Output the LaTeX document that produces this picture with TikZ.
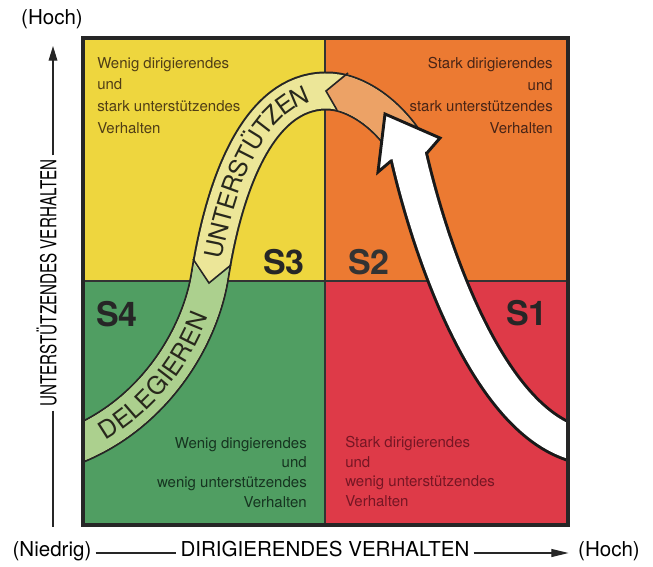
\documentclass[tikz,border=0pt]{standalone}
\usepackage{fontspec}
\setmainfont{TeX Gyre Heros}
\usetikzlibrary{arrows.meta,decorations.text}

\definecolor{quadyellow}{RGB}{238,214,62}
\definecolor{quadorange}{RGB}{236,122,50}
\definecolor{quadgreen}{RGB}{80,158,98}
\definecolor{quadred}{RGB}{222,58,72}
\definecolor{bandyellow}{RGB}{236,230,152}
\definecolor{bandgreen}{RGB}{172,208,142}
\definecolor{bandorange}{RGB}{236,162,102}
\definecolor{inkthree}{RGB}{80,62,22}
\definecolor{inktwo}{RGB}{72,36,22}
\definecolor{inkfour}{RGB}{22,52,32}
\definecolor{inkone}{RGB}{118,22,36}
\definecolor{inkband}{RGB}{40,40,28}

\newcommand{\bandfont}{\fontsize{18.5}{22}\selectfont}
\newcommand{\bandpath}{(65,449) .. controls (150,420) and (200,340) .. (210,275)
  .. controls (225,180) and (260,92) .. (325,91)
  .. controls (355,90) and (390,115) .. (410,150)}
\newcommand{\shaftpath}{(585,446) .. controls (490,430) and (430,250) .. (408,153)}

\begin{document}
\begin{tikzpicture}[x=0.75pt,y=-0.75pt,
    quadtext/.style={inner sep=0pt,font=\fontsize{11.25}{16.3}\selectfont},
    quadtextlow/.style={inner sep=0pt,font=\fontsize{11.25}{14.8}\selectfont},
    slabel/.style={inner sep=0pt,font=\fontsize{25.5}{30}\selectfont\bfseries},
    axislabel/.style={inner sep=3pt,text height=0.73em,text depth=0.21em,
      font=\fontsize{15.4}{18}\selectfont},
    axisline/.style={line width=0.9pt,black!85}]
  \useasboundingbox (0,0) rectangle (653,567);

  % quadrants
  \fill[quadyellow] (83,38) rectangle (325,281);
  \fill[quadorange] (325,38) rectangle (568,281);
  \fill[quadgreen] (83,281) rectangle (325,525);
  \fill[quadred] (325,281) rectangle (568,525);
  \draw[line width=1.5pt,black!80] (325,38) -- (325,525);
  \draw[line width=1.5pt,black!80] (83,281) -- (568,281);

  % quadrant texts
  \node[quadtext,anchor=north west,align=left,text=inkthree] (txtthree) at (97,57)
    {Wenig dirigierendes\\und\\stark unterstützendes\\Verhalten};
  \node[quadtext,anchor=north east,align=right,text=inktwo] (txttwo) at (553,57)
    {Stark dirigierendes\\und\\stark unterstützendes\\Verhalten};
  \node[quadtextlow,anchor=north east,align=right,text=inkfour] (txtfour) at (307,437)
    {Wenig dingierendes\\und\\wenig unterstützendes\\Verhalten};
  \node[quadtextlow,anchor=north west,align=left,text=inkone] (txtone) at (345,436)
    {Stark dirigierendes\\und\\wenig unterstützendes\\Verhalten};

  \node[slabel,text=black!85] (sthree) at (284,262) {S3};
  \node[slabel,text=black!80] (stwo) at (369,262) {S2};
  \node[slabel,text=black!85] (sfour) at (117,314) {S4};
  \node[slabel,text=black!85] (sone) at (527,313) {S1};

  \begin{scope}
    \clip (83,38) rectangle (568,525);
    % curved band S2 -> S3 -> S4
    \draw[line width=29.25pt,black!85] \bandpath;
    \draw[line width=26.25pt,bandyellow] \bandpath;
    \begin{scope}
      \clip (0,600) -- (0,240) -- (180,246) -- (209,283) -- (245,254) -- (245,600) -- cycle;
      \draw[line width=26.25pt,bandgreen] \bandpath;
    \end{scope}
    \begin{scope}
      \clip (360,60) -- (326,91) -- (343,121) -- (360,200) -- (470,200) -- (470,30) -- cycle;
      \draw[line width=26.25pt,bandorange] \bandpath;
    \end{scope}
    \draw[line width=1.2pt,black!85,line join=miter] (193,259) -- (209,283) -- (231,265);
    \draw[line width=1.2pt,black!85,line join=miter] (348,73) -- (326,91) -- (337,110);
    \path[decorate,decoration={text along path,text align=center,raise=-6.8pt,
        text={|\bandfont\color{inkband}|DELEGIEREN}}]
      (65,449) .. controls (150,420) and (200,340) .. (210,275);
    \path[decorate,decoration={text along path,text align=center,raise=-6.8pt,
        text={|\bandfont\color{inkband}|UNTERST{Ü}TZEN}}]
      (210,275) .. controls (225,180) and (260,92) .. (325,91);

    % white arrow S1 -> S2
    \draw[line width=29.25pt,black!90] \shaftpath;
    \draw[line width=2.2pt,black!90,fill=white,line join=miter]
      (391,161) -- (378,172) -- (385,114) -- (440,138) -- (427,153) -- cycle;
    \draw[line width=24.75pt,white] \shaftpath;
  \end{scope}
  \draw[line width=2.4pt,black!85] (83,38) rectangle (568,525);

  % axes
  \node[axislabel] (yhigh) at (52,21) {(Hoch)};
  \node[axislabel,rotate=90,font=\fontsize{16.5}{18}\selectfont] (ylab) at (53,283)
    {\scalebox{0.69}[1]{UNTERSTÜTZENDES VERHALTEN}};
  \coordinate (ytop) at (53,46);
  \coordinate (ybot) at (53,527);
  \draw[axisline,-{Triangle[length=11pt,width=6.5pt]}] (ylab.east) -- (ytop);
  \draw[axisline] (ylab.west) -- (ybot);

  \node[axislabel] (xlow) at (52,553) {(Niedrig)};
  \node[axislabel] (xlab) at (325,553) {DIRIGIERENDES VERHALTEN};
  \node[axislabel] (xhigh) at (609,553) {(Hoch)};
  \draw[axisline] (xlow.east) -- (xlab.west);
  \draw[axisline,-{Triangle[length=13pt,width=6pt]},shorten >=4pt] (xlab.east) -- (xhigh.west);
\end{tikzpicture}
\end{document}
